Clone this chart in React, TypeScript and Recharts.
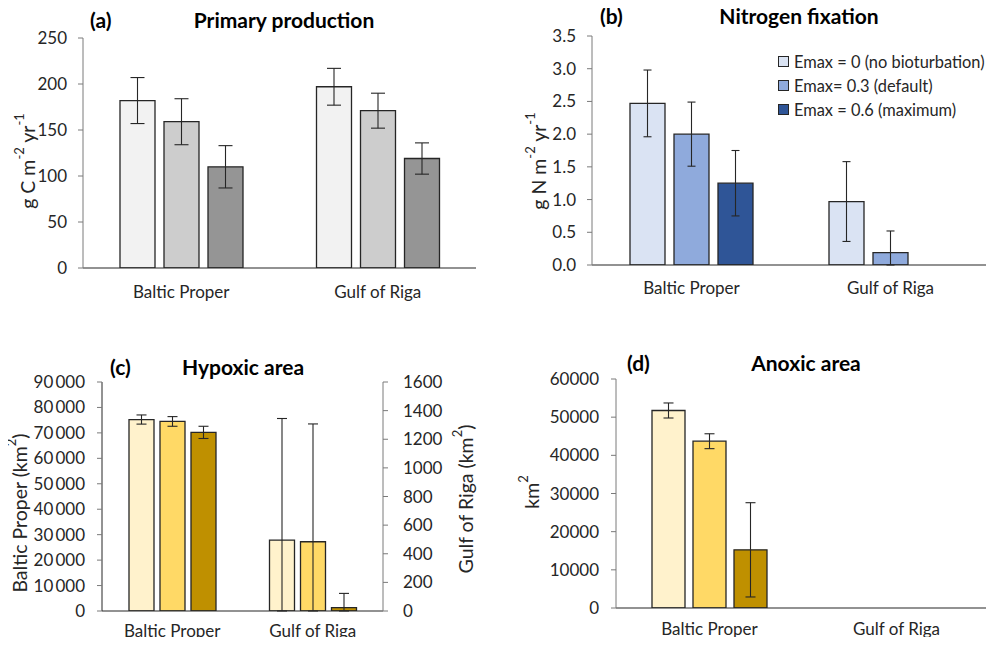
import React from "react";
import { BarChart, Bar, XAxis, YAxis, ErrorBar, Legend } from "recharts";

const FONT = "Lato, 'Open Sans', sans-serif";

const regions = ["Baltic Proper", "Gulf of Riga"];
const scenarios = [
  "Emax = 0 (no bioturbation)",
  "Emax= 0.3 (default)",
  "Emax = 0.6 (maximum)",
];

// (a) primary production, g C m-2 yr-1  [Baltic Proper, Gulf of Riga]
const ppNoBio = [182, 197];
const ppDefault = [159, 171];
const ppMax = [110, 119];
const ppNoBioErr = [25, 20];
const ppDefaultErr = [25, 19];
const ppMaxErr = [23, 17];
const ppTicks = [0, 50, 100, 150, 200, 250];

// (b) nitrogen fixation, g N m-2 yr-1
const nfNoBio = [2.47, 0.97];
const nfDefault = [2.0, 0.19];
const nfMax = [1.25, 0];
const nfNoBioErr = [0.51, 0.61];
const nfDefaultErr = [0.49, 0.33];
const nfMaxErr = [0.5, null];
const nfTicks = [0, 0.5, 1, 1.5, 2, 2.5, 3, 3.5];

// (c) hypoxic area, km2 — one value per scenario
const hypoBaltic = [75250, 74500, 70200];
const hypoBalticErr = [1800, 1900, 2400];
const hypoGulf = [495, 484, 23];
const hypoGulfErr = [850, 823, 100];
const hypoBalticTicks = [0, 10000, 20000, 30000, 40000, 50000, 60000, 70000, 80000, 90000];
const hypoGulfTicks = [0, 200, 400, 600, 800, 1000, 1200, 1400, 1600];

// (d) anoxic area, km2
const anoxNoBio = [51750, 0];
const anoxDefault = [43700, 0];
const anoxMax = [15240, 0];
const anoxNoBioErr = [1970, null];
const anoxDefaultErr = [1950, null];
const anoxMaxErr = [12350, null];
const anoxTicks = [0, 10000, 20000, 30000, 40000, 50000, 60000];

const greys = ["#f2f2f2", "#cdcdcd", "#959595"];
const blues = ["#dae3f3", "#8faadc", "#2f5597"];
const golds = ["#fff2cc", "#ffd966", "#bf9000"];

// error bars are cut at the axis, so the lower half never goes below zero
const errPair = (v: number, e: number | null) =>
  e == null ? null : [Math.min(v, e), e];

const makeRows = (vals: number[][], errs: (number | null)[][]) =>
  regions.map((region, i) => {
    const row: any = { region };
    vals.forEach((v, k) => {
      row["v" + k] = v[i];
      row["e" + k] = errPair(v[i], errs[k][i]);
    });
    return row;
  });

const ppRows = makeRows([ppNoBio, ppDefault, ppMax], [ppNoBioErr, ppDefaultErr, ppMaxErr]);
const nfRows = makeRows([nfNoBio, nfDefault, nfMax], [nfNoBioErr, nfDefaultErr, nfMaxErr]);
const anoxRows = makeRows([anoxNoBio, anoxDefault, anoxMax], [anoxNoBioErr, anoxDefaultErr, anoxMaxErr]);

const hypoRows = regions.map((region, i) => {
  const row: any = { region };
  [0, 1, 2].forEach((k) => {
    row["b" + k] = i === 0 ? hypoBaltic[k] : null;
    row["be" + k] = i === 0 ? errPair(hypoBaltic[k], hypoBalticErr[k]) : null;
    row["g" + k] = i === 1 ? hypoGulf[k] : null;
    row["ge" + k] = i === 1 ? errPair(hypoGulf[k], hypoGulfErr[k]) : null;
  });
  return row;
});

const tickStyle = { fontFamily: FONT, fontSize: 17, fill: "#262626" };
const spaced = (v: number) => String(v).replace(/\B(?=(\d{3})+(?!\d))/g, "\u2009");

// rotated axis title, parts alternate normal / superscript
const AxisTitle = ({ px, py, parts }: { px: number; py: number; parts: string[] }) => (
  <text
    x={px}
    y={py}
    transform={`rotate(-90 ${px} ${py})`}
    textAnchor="middle"
    dominantBaseline="central"
    fontFamily={FONT}
    fontSize={19.5}
    fill="#262626"
  >
    {parts.map((p, i) =>
      i % 2 === 1 ? (
        <tspan key={i} fontSize={13} dy={-8}>
          {p}
        </tspan>
      ) : (
        <tspan key={i} dy={i === 0 ? 0 : 8}>
          {p}
        </tspan>
      )
    )}
  </text>
);

const Title = ({ x, y, text, center }: { x: number; y: number; text: string; center?: boolean }) => (
  <div
    style={{
      position: "absolute",
      left: x,
      top: y - 13,
      lineHeight: "26px",
      fontFamily: FONT,
      fontSize: 21,
      fontWeight: 700,
      color: "#000",
      whiteSpace: "nowrap",
      transform: center ? "translateX(-50%)" : undefined,
    }}
  >
    {text}
  </div>
);

const BlueLegend = ({ payload }: any) => {
  const items = [...(payload || [])].sort(
    (a: any, b: any) => scenarios.indexOf(a.value) - scenarios.indexOf(b.value)
  );
  return (
    <div style={{ fontFamily: FONT, fontSize: 16.4, color: "#262626" }}>
      {items.map((p: any) => (
        <div key={p.value} style={{ display: "flex", alignItems: "center", height: 24, whiteSpace: "nowrap" }}>
          <span
            style={{
              display: "inline-block",
              width: 9,
              height: 9,
              background: p.color,
              border: "1px solid #262626",
              marginRight: 5,
            }}
          />
          {p.value}
        </div>
      ))}
    </div>
  );
};

type PanelProps = {
  left: number;
  top: number;
  width: number;
  height: number;
  margin: { top: number; right: number; bottom: number; left: number };
  yWidth: number;
  rows: any[];
  colors: string[];
  domain: [number, number];
  ticks: number[];
  fmt: (v: number) => string;
  barSize: number;
  barGap: number;
  cap: number;
  yTitle: React.ReactElement;
  xTickMargin: number;
  yTickMargin: number;
  legend?: boolean;
};

const Panel = (p: PanelProps) => (
  <div style={{ position: "absolute", left: p.left, top: p.top }}>
    <BarChart width={p.width} height={p.height} data={p.rows} margin={p.margin} barSize={p.barSize} barGap={p.barGap}>
      <XAxis
        dataKey="region"
        height={30}
        tickLine={false}
        axisLine={{ stroke: "#262626", strokeWidth: 1.2 }}
        tick={tickStyle}
        tickMargin={p.xTickMargin}
      />
      <YAxis
        width={p.yWidth}
        domain={p.domain}
        ticks={p.ticks}
        tickFormatter={p.fmt}
        allowDataOverflow
        tickSize={5}
        tickMargin={p.yTickMargin}
        tick={tickStyle}
        axisLine={{ stroke: "#7a7a7a" }}
        tickLine={{ stroke: "#7a7a7a" }}
        label={p.yTitle}
      />
      {p.legend && (
        <Legend
          layout="vertical"
          verticalAlign="middle"
          align="center"
          wrapperStyle={{ left: 278, top: 49, width: 216 }}
          content={<BlueLegend />}
        />
      )}
      {[0, 1, 2].map((k) => (
        <Bar
          key={k}
          dataKey={"v" + k}
          name={scenarios[k]}
          fill={p.colors[k]}
          stroke="#262626"
          strokeWidth={1.3}
          isAnimationActive={false}
        >
          <ErrorBar dataKey={"e" + k} width={p.cap} stroke="#262626" strokeWidth={1.1} direction="y" />
        </Bar>
      ))}
    </BarChart>
  </div>
);

const HypoxicPanel = () => (
  <div style={{ position: "absolute", left: 0, top: 320 }}>
    <BarChart
      width={490}
      height={335}
      data={hypoRows}
      margin={{ top: 62, right: 7, bottom: 14, left: 0 }}
      barSize={25}
      barGap={6}
    >
      <XAxis
        xAxisId="main"
        dataKey="region"
        height={30}
        tickLine={false}
        axisLine={{ stroke: "#262626", strokeWidth: 1.2 }}
        tick={tickStyle}
        tickMargin={8}
      />
      {/* second, hidden category axis so the Gulf of Riga bars get their own slots */}
      <XAxis xAxisId="gulf" dataKey="region" hide height={0} orientation="top" />
      <YAxis
        yAxisId="left"
        width={102}
        domain={[0, 90000]}
        ticks={hypoBalticTicks}
        tickFormatter={spaced}
        allowDataOverflow
        tickSize={5}
        tickMargin={12}
        tick={tickStyle}
        axisLine={{ stroke: "#262626" }}
        tickLine={{ stroke: "#7a7a7a" }}
        label={<AxisTitle px={19} py={193} parts={["Baltic Proper (km", "2", ")"]} />}
      />
      <YAxis
        yAxisId="right"
        orientation="right"
        width={100}
        domain={[0, 1600]}
        ticks={hypoGulfTicks}
        allowDataOverflow
        tickSize={5}
        tickMargin={15}
        tick={{ ...tickStyle, textAnchor: "start" }}
        axisLine={{ stroke: "#7a7a7a" }}
        tickLine={{ stroke: "#7a7a7a" }}
        label={<AxisTitle px={465} py={179} parts={["Gulf of Riga (km", "2", ")"]} />}
      />
      {[0, 1, 2].map((k) => (
        <Bar
          key={"b" + k}
          xAxisId="main"
          yAxisId="left"
          dataKey={"b" + k}
          name={scenarios[k]}
          fill={golds[k]}
          stroke="#262626"
          strokeWidth={1.3}
          isAnimationActive={false}
        >
          <ErrorBar dataKey={"be" + k} width={5} stroke="#262626" strokeWidth={1.1} direction="y" />
        </Bar>
      ))}
      {[0, 1, 2].map((k) => (
        <Bar
          key={"g" + k}
          xAxisId="gulf"
          yAxisId="right"
          dataKey={"g" + k}
          name={scenarios[k]}
          fill={golds[k]}
          stroke="#262626"
          strokeWidth={1.3}
          isAnimationActive={false}
        >
          <ErrorBar dataKey={"ge" + k} width={5} stroke="#262626" strokeWidth={1.1} direction="y" />
        </Bar>
      ))}
    </BarChart>
  </div>
);

export default function App() {
  return (
    <div style={{ position: "relative", width: 994, height: 645, margin: -8, background: "#fff", overflow: "hidden" }}>
      <Panel
        left={0}
        top={0}
        width={490}
        height={312}
        margin={{ top: 38, right: 14, bottom: 14, left: 0 }}
        yWidth={83}
        rows={ppRows}
        colors={greys}
        domain={[0, 250]}
        ticks={ppTicks}
        fmt={(v) => String(v)}
        barSize={35}
        barGap={9}
        cap={7}
        xTickMargin={12}
        yTickMargin={11}
        yTitle={<AxisTitle px={27} py={161} parts={["g C m", "-2", " yr", "-1"]} />}
      />
      <Panel
        left={500}
        top={0}
        width={494}
        height={312}
        margin={{ top: 36, right: 4, bottom: 17, left: 0 }}
        yWidth={92}
        rows={nfRows}
        colors={blues}
        domain={[0, 3.5]}
        ticks={nfTicks}
        fmt={(v) => v.toFixed(1)}
        barSize={35}
        barGap={9}
        cap={4}
        xTickMargin={11}
        yTickMargin={11}
        legend
        yTitle={<AxisTitle px={38} py={161} parts={["g N m", "-2", " yr", "-1"]} />}
      />
      <HypoxicPanel />
      <Panel
        left={500}
        top={320}
        width={494}
        height={335}
        margin={{ top: 59, right: 4, bottom: 17, left: 0 }}
        yWidth={116}
        rows={anoxRows}
        colors={golds}
        domain={[0, 60000]}
        ticks={anoxTicks}
        fmt={(v) => String(v)}
        barSize={33}
        barGap={8}
        cap={5}
        xTickMargin={9}
        yTickMargin={12}
        yTitle={<AxisTitle px={31} py={172} parts={["km", "2"]} />}
      />
      <Title x={90} y={20} text="(a)" />
      <Title x={284} y={20} text="Primary production" center />
      <Title x={600} y={16} text="(b)" />
      <Title x={799} y={16} text="Nitrogen fixation" center />
      <Title x={110} y={367} text="(c)" />
      <Title x={243} y={367} text="Hypoxic area" center />
      <Title x={627} y={363} text="(d)" />
      <Title x={806} y={363} text="Anoxic area" center />
    </div>
  );
}
